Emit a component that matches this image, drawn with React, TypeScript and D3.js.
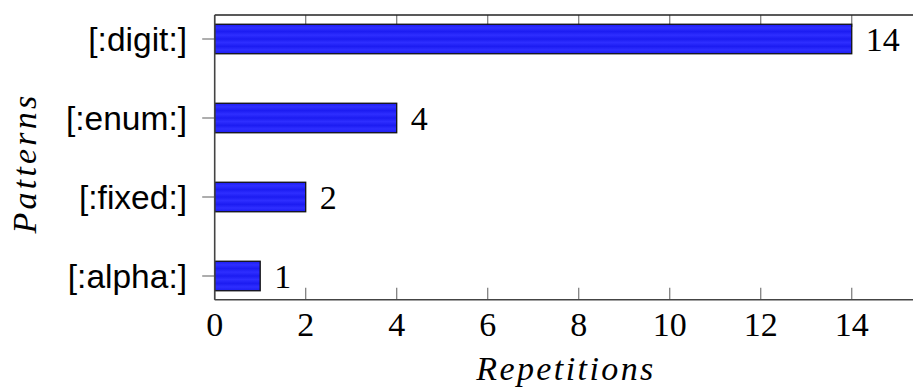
import React from "react";
import * as d3 from "d3";

const categories = ["[:digit:]", "[:enum:]", "[:fixed:]", "[:alpha:]"];
const values = [14, 4, 2, 1];
const xTicks = [0, 2, 4, 6, 8, 10, 12, 14];

const W = 913;
const H = 388;
const left = 214.7;
const right = 920;
const top = 15;
const bottom = 299.7;

export default function App() {
  const x = d3.scaleLinear().domain([0, 15.5]).range([left, right]);
  const y = d3.scalePoint<string>().domain(categories).range([39, 276]);
  const barH = 29.5;
  const serif = "'Liberation Serif', 'Times New Roman', serif";
  const sans = "'Liberation Sans', Arial, sans-serif";
  const stripes = [0, 0.12, 0.25, 0.37, 0.5, 0.62, 0.75, 0.87, 1];

  return (
    <svg
      width={W}
      height={H}
      style={{ position: "absolute", left: 0, top: 0, background: "#fff" }}
    >
      <defs>
        <linearGradient id="barfill" x1="0" y1="0" x2="0" y2="1">
          {stripes.map((s, i) => (
            <stop
              key={i}
              offset={s}
              stopColor={i % 2 === 0 ? "#1c1cf2" : "#2e2eff"}
            />
          ))}
        </linearGradient>
      </defs>
      {xTicks.map((t) => (
        <g key={t}>
          <line x1={x(t)} x2={x(t)} y1={bottom} y2={bottom - 12} stroke="#777" strokeWidth={1.2} />
          <line x1={x(t)} x2={x(t)} y1={top} y2={top + 12} stroke="#777" strokeWidth={1.2} />
          <text
            x={x(t)}
            y={336}
            textAnchor="middle"
            fontFamily={serif}
            fontSize={34}
            fill="#000"
          >
            {t}
          </text>
        </g>
      ))}
      {categories.map((c) => (
        <g key={c}>
          <line x1={left - 12.5} x2={left + 12.5} y1={y(c)!} y2={y(c)!} stroke="#777" strokeWidth={1.2} />
          <text
            x={187}
            y={y(c)!}
            dy="0.35em"
            textAnchor="end"
            fontFamily={sans}
            fontSize={33.5}
            fill="#000"
          >
            {c}
          </text>
        </g>
      ))}
      {categories.map((c, i) => (
        <g key={c}>
          <rect
            x={x(0)}
            y={y(c)! - barH / 2}
            width={x(values[i]) - x(0)}
            height={barH}
            fill="url(#barfill)"
            stroke="#111"
            strokeWidth={1.3}
          />
          <text
            x={x(values[i]) + 14}
            y={y(c)! + 12}
            fontFamily={serif}
            fontSize={34}
            fill="#000"
          >
            {values[i]}
          </text>
        </g>
      ))}
      <line x1={left} x2={right} y1={top} y2={top} stroke="#222" strokeWidth={1.3} />
      <line x1={left} x2={right} y1={bottom} y2={bottom} stroke="#444" strokeWidth={1.6} />
      <line x1={left} x2={left} y1={top} y2={bottom} stroke="#444" strokeWidth={1.6} />
      <text
        x={566}
        y={380}
        textAnchor="middle"
        fontFamily={serif}
        fontStyle="italic"
        fontSize={34}
        letterSpacing={2.4}
        fill="#000"
      >
        Repetitions
      </text>
      <text
        transform={`translate(36, 163) rotate(-90)`}
        textAnchor="middle"
        fontFamily={serif}
        fontStyle="italic"
        fontSize={34}
        letterSpacing={3.2}
        fill="#000"
      >
        Patterns
      </text>
    </svg>
  );
}
